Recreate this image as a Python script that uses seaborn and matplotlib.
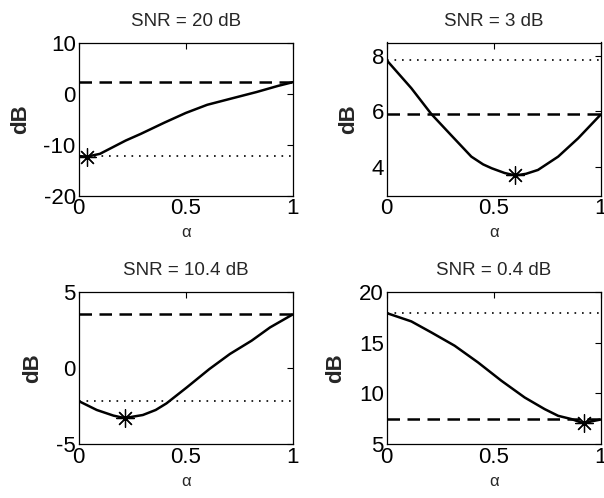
import matplotlib
matplotlib.use("Agg")
import matplotlib.pyplot as plt
import seaborn as sns
import pandas as pd
from matplotlib.markers import MarkerStyle

# ---------------- data ----------------
titles = ["SNR = 20 dB", "SNR = 3 dB", "SNR = 10.4 dB", "SNR = 0.4 dB"]

alpha_a = [0.0, 0.04, 0.10, 0.16, 0.22, 0.29, 0.35, 0.40, 0.50, 0.60, 0.71, 0.83, 0.93, 1.00]
db_a    = [-12.24, -12.35, -11.8, -10.5, -9.2, -7.9, -6.7, -5.7, -3.8, -2.2, -1.0, 0.3, 1.5, 2.24]

alpha_b = [0.0, 0.115, 0.208, 0.30, 0.395, 0.45, 0.49, 0.55, 0.60, 0.65, 0.706, 0.80, 0.893, 1.00]
db_b    = [7.84, 6.83, 5.9, 5.14, 4.36, 4.08, 3.94, 3.77, 3.68, 3.74, 3.88, 4.36, 5.02, 5.89]

alpha_c = [0.0, 0.085, 0.163, 0.215, 0.30, 0.36, 0.41, 0.505, 0.61, 0.706, 0.807, 0.893, 1.00]
db_c    = [-2.16, -2.75, -3.12, -3.28, -3.08, -2.75, -2.32, -1.27, -0.07, 0.92, 1.79, 2.66, 3.52]

alpha_d = [0.0, 0.115, 0.208, 0.317, 0.426, 0.535, 0.644, 0.737, 0.80, 0.862, 0.92, 0.955, 1.00]
db_d    = [17.9, 17.08, 16.0, 14.69, 13.05, 11.25, 9.6, 8.46, 7.8, 7.48, 7.05, 7.25, 7.44]

# reference levels: dotted (alpha = 0), dashed (alpha = 1)
dotted_levels = [-12.24, 7.86, -2.14, 17.87]
dashed_levels = [2.24, 5.89, 3.52, 7.44]

# optimum markers
opt_alpha = [0.04, 0.60, 0.215, 0.92]
opt_db    = [-12.35, 3.68, -3.28, 7.05]

ylims = [(-20, 10), (2.95, 8.48), (-5, 5), (5, 20)]
yticks = [[-20, -10, 0, 10], [4, 6, 8], [-5, 0, 5], [5, 10, 15, 20]]

# ---------------- style ----------------
sns.set_theme(style="white")
plt.rcParams["font.family"] = ["Liberation Sans", "DejaVu Sans"]

fig = plt.figure(figsize=(6.04, 4.98), dpi=100)
W, H = 604.0, 498.0
boxes = [
    (78.5, 42.5, 293.0, 195.7),
    (386.7, 42.5, 601.0, 195.7),
    (78.5, 291.7, 293.0, 444.3),
    (386.7, 291.7, 601.0, 444.3),
]
curves = [(alpha_a, db_a), (alpha_b, db_b), (alpha_c, db_c), (alpha_d, db_d)]

asterisk = MarkerStyle((8, 2, 0))

for i, (x0, y0, x1, y1) in enumerate(boxes):
    ax = fig.add_axes([x0 / W, 1 - y1 / H, (x1 - x0) / W, (y1 - y0) / H])
    df = pd.DataFrame({"alpha": curves[i][0], "dB": curves[i][1]})
    ax.axhline(dotted_levels[i], color="black", linestyle=(0, (1, 3.5)), linewidth=1.2)
    ax.axhline(dashed_levels[i], color="black", linestyle=(0, (5, 3)), linewidth=1.8)
    sns.lineplot(data=df, x="alpha", y="dB", ax=ax, color="black", linewidth=1.8)
    ax.plot([opt_alpha[i]], [opt_db[i]], linestyle="none", marker=asterisk,
            markersize=13, markeredgecolor="black", markeredgewidth=0.9, color="black")
    ax.set_xlim(0, 1)
    ax.set_ylim(*ylims[i])
    ax.set_xticks([0, 0.5, 1])
    ax.set_xticklabels(["0", "0.5", "1"])
    ax.set_yticks(yticks[i])
    ax.set_yticklabels([str(v) for v in yticks[i]])
    ax.tick_params(direction="in", length=4, width=0.8, top=True, right=True,
                   labelsize=16, pad=2, colors="black")
    ax.set_title(titles[i], fontsize=13.5, pad=12)
    ax.set_xlabel("α", fontsize=12, labelpad=4)
    ax.set_ylabel("dB", fontsize=16, fontweight="bold", labelpad=9)
    for s in ax.spines.values():
        s.set_color("black")
        s.set_linewidth(0.9)
    ax.set_facecolor("white")

fig.savefig("out.png", dpi=100, facecolor="white")
